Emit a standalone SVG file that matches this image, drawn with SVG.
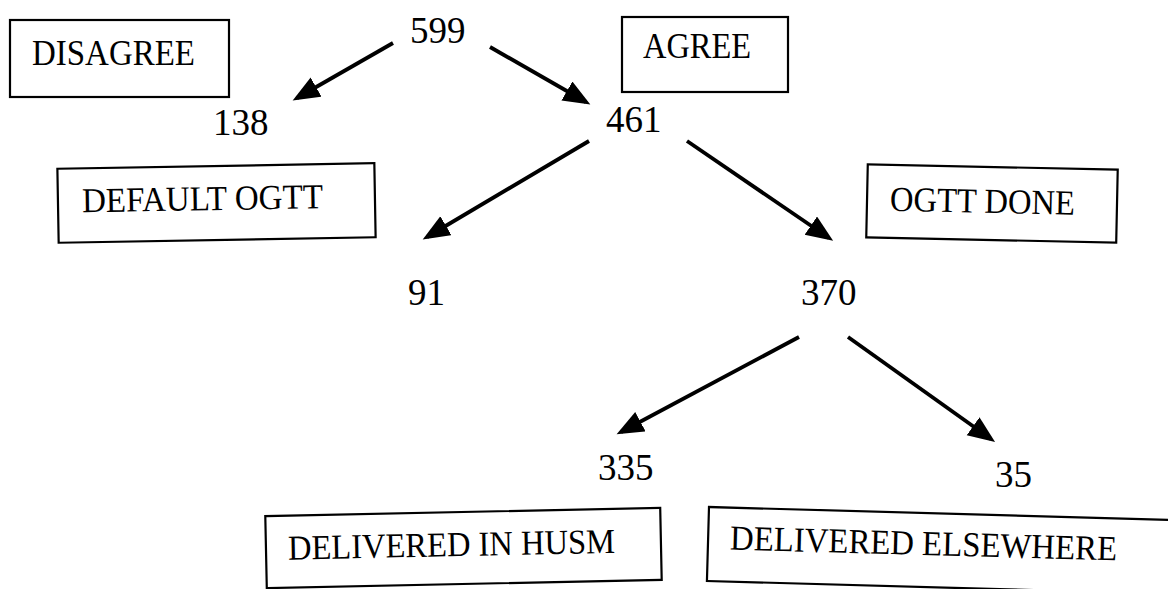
<svg xmlns="http://www.w3.org/2000/svg" width="1168" height="589" viewBox="0 0 1168 589">
<style>
.box{fill:none;stroke:#000;stroke-width:2.2}
.lbl{font-family:"Liberation Serif","Times New Roman",serif;font-size:35px;fill:#000}
.num{font-family:"Liberation Serif","Times New Roman",serif;font-size:37px;fill:#000}
.arr{stroke:#000;stroke-width:3.8;fill:none;marker-end:url(#ah)}
</style>
<defs>
<marker id="ah" markerUnits="userSpaceOnUse" markerWidth="30" markerHeight="26" refX="22" refY="11" orient="auto">
<path d="M0,0 L27,11 L0,22 Z" fill="#000"/>
</marker>
</defs>
<rect width="1168" height="589" fill="#fff"/>
<g id="connectors">
<line class="arr" x1="393" y1="43" x2="297" y2="98"/>
<line class="arr" x1="490" y1="47" x2="586" y2="102"/>
<line class="arr" x1="589" y1="141" x2="427" y2="237"/>
<line class="arr" x1="687" y1="141" x2="829" y2="238"/>
<line class="arr" x1="799" y1="337" x2="621" y2="432"/>
<line class="arr" x1="848" y1="337" x2="991" y2="439"/>
</g>
<g id="disagree"><rect class="box" x="10" y="20" width="219" height="77"/><text class="lbl" x="32" y="65" textLength="163" lengthAdjust="spacingAndGlyphs">DISAGREE</text></g>
<g id="n599"><text class="num" x="410" y="43">599</text></g>
<g id="n138"><text class="num" x="213" y="135">138</text></g>
<g id="agree"><rect class="box" x="622" y="17" width="166" height="75"/><text class="lbl" x="643" y="58" textLength="108" lengthAdjust="spacingAndGlyphs">AGREE</text></g>
<g id="n461"><text class="num" x="606" y="132">461</text></g>
<g id="default-ogtt" transform="rotate(-1 216 203)"><rect class="box" x="58" y="166" width="317" height="74"/><text class="lbl" x="82" y="210" textLength="241" lengthAdjust="spacingAndGlyphs">DEFAULT OGTT</text></g>
<g id="ogtt-done" transform="rotate(1.2 992 203)"><rect class="box" x="867" y="167" width="250" height="73"/><text class="lbl" x="890" y="213" textLength="185" lengthAdjust="spacingAndGlyphs">OGTT DONE</text></g>
<g id="n91"><text class="num" x="408" y="305">91</text></g>
<g id="n370"><text class="num" x="801" y="305">370</text></g>
<g id="n335"><text class="num" x="598" y="480">335</text></g>
<g id="n35"><text class="num" x="995" y="487">35</text></g>
<g id="husm" transform="rotate(-1.2 463 548)"><rect class="box" x="266" y="512" width="395" height="72"/><text class="lbl" x="288" y="556" font-size="36" textLength="327" lengthAdjust="spacingAndGlyphs">DELIVERED IN HUSM</text></g>
<g id="elsewhere" transform="rotate(1.6 709 507)"><rect class="box" x="709" y="507" width="480" height="74"/><text class="lbl" x="731" y="549" font-size="36" textLength="387" lengthAdjust="spacingAndGlyphs">DELIVERED ELSEWHERE</text></g>
</svg>
